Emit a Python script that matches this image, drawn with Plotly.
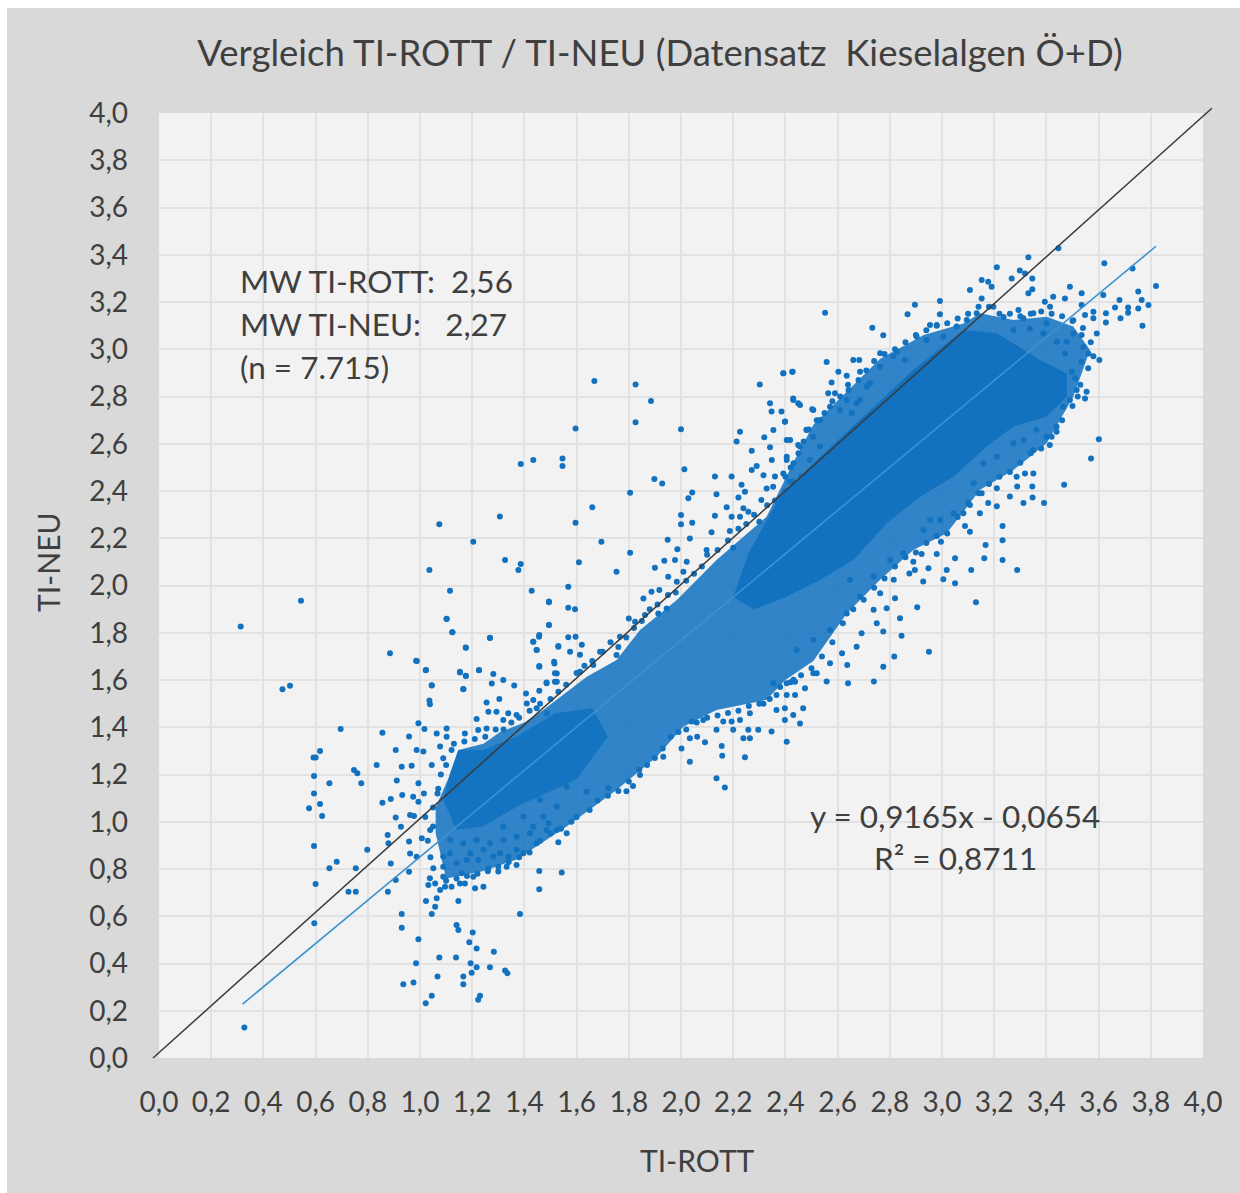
import plotly.graph_objects as go

TITLE = "Vergleich TI-ROTT / TI-NEU (Datensatz  Kieselalgen Ö+D)"
X_TITLE = "TI-ROTT"
Y_TITLE = "TI-NEU"
STATS = ["MW TI-ROTT:\u00a0 2,56", "MW TI-NEU:\u00a0\u00a0 2,27", "(n = 7.715)"]
TREND_TEXT = ["y = 0,9165x - 0,0654", "R² = 0,8711"]

diag_x = [-0.023, 4.034]
diag_y = [0.0, 4.02]
trend_x = [0.32, 3.82]
trend_y = [0.228, 3.436]

# Outline of the areas too dense to separate into single dots
cloud_outline = [(1.06,1.06),(1.115,1.20),(1.147,1.304),(1.243,1.33),(1.307,1.38),(1.40,1.42),(1.472,1.473),(1.639,1.614),(1.753,1.685),(1.843,1.812),(1.984,1.939),(2.136,2.108),(2.328,2.291),(2.43,2.52),(2.507,2.68),(2.635,2.82),(2.763,2.96),(2.930,3.06),(3.082,3.109),(3.146,3.152),(3.274,3.124),(3.401,3.138),(3.503,3.096),(3.567,2.997),(3.503,2.799),(3.401,2.602),(3.274,2.489),(3.146,2.405),(3.018,2.221),(2.890,2.150),(2.763,2.024),(2.635,1.882),(2.507,1.68),(2.40,1.60),(2.328,1.516),(2.136,1.473),(2.009,1.402),(1.907,1.275),(1.753,1.134),(1.562,0.980),(1.370,0.840),(1.240,0.790),(1.100,0.760),(1.060,0.950)]
core_high = [(2.26,2.14),(2.379,2.376),(2.507,2.517),(2.698,2.715),(2.890,2.912),(3.082,3.082),(3.210,3.068),(3.375,2.955),(3.478,2.898),(3.478,2.799),(3.401,2.715),(3.273,2.673),(3.171,2.588),(3.043,2.460),(2.916,2.376),(2.788,2.263),(2.660,2.108),(2.533,2.024),(2.40,1.95),(2.28,1.90),(2.20,1.95)]
core_low = [(1.089,1.092),(1.115,1.205),(1.147,1.304),(1.243,1.304),(1.300,1.330),(1.370,1.360),(1.520,1.460),(1.660,1.480),(1.720,1.360),(1.600,1.180),(1.370,1.064),(1.243,0.980),(1.140,0.966)]

points_low = [(.313,1.826),(.473,1.561),(.502,1.576),(.544,1.935),(.696,1.393),(.856,1.377),(.885,1.713),(.985,1.681),(1.022,1.641),(1.045,1.577),(1.036,1.513),(1.102,1.858),(1.124,1.802),(1.176,1.737),(1.268,1.778),(1.153,1.635),(1.176,1.617),(1.226,1.641),(1.166,1.561),(1.281,1.625),(1.275,1.585),(1.319,1.600),(1.361,1.577),(1.255,1.505),(1.304,1.520),(1.406,1.543),(1.457,1.554),(1.434,1.762),(1.457,1.790),(1.447,1.727),(1.530,1.741),(1.494,1.833),(1.494,1.932),(1.457,1.656),(1.515,1.670),(1.524,1.628),(1.517,1.593),(1.485,1.586),(.994,1.417),(1.017,1.393),(.958,1.361),(.907,1.304),(.834,1.240),(.617,1.300),(.592,1.272),(.600,1.272),(.594,1.194),(.653,1.163),(.594,1.120),(.617,1.075),(.575,1.057),(.625,1.024),(.747,1.219),(.760,1.205),(.775,1.163),(.594,.897),(.600,.737),(.595,.570),(.653,.803),(.681,.831),(.754,.803),(.798,.881),(.726,.704),(.754,.704),(.877,.704),(.888,.823),(.907,.753),(.958,.788),(.930,.609),(.930,.551),(.994,.503),(1.045,.609),(1.058,.640),(1.064,.676),(1.023,.665),(1.147,.665),(1.140,.563),(1.147,.542),(1.202,.531),(1.189,.490),(1.217,.464),(1.283,.450),(1.074,.425),(1.138,.425),(1.194,.401),(1.217,.384),(1.268,.384),(1.198,.361),(1.326,.370),(1.335,.359),(.985,.401),(1.067,.345),(1.166,.345),(1.166,.312),(.975,.320),(.936,.312),(1.045,.264),(1.022,.232),(1.230,.264),(1.223,.247),(.327,.129),(1.383,.609),(1.457,.714),(1.457,.792),(1.543,.785),(1.530,.913),
(.911,1.175),(.930,1.233),(.968,1.237),(1.045,1.240),(.994,1.163),(.932,1.113),(.888,1.096),(.856,1.080),(1.015,1.120),(.974,1.106),(.994,1.085),(1.067,1.120),(.907,1.018),(.962,1.029),(.977,1.024),(.927,.979),(.876,.944),(.879,.909),(.958,.916),(.962,.866),(.987,.852),(1.007,.930),(1.039,.965),(.987,1.304),(1.013,1.297),(1.064,1.374),(1.102,1.395),(1.102,1.360),(1.077,1.318),(1.089,1.269),(1.121,1.304),(1.172,1.374),(1.223,1.388),(1.255,1.395),(1.217,1.435),(1.262,1.466),(1.293,1.466),(1.338,1.459),(1.319,1.431),(1.370,1.452),(1.409,1.501),(1.447,1.480),(1.485,1.459),(1.434,1.515),
(1.032,.732),(1.058,.739),(1.077,.711),(1.096,.725),(1.121,.725),(1.153,.739),(1.172,.739),(1.211,.718),(1.243,.725),(1.204,.767),(1.262,.803),(1.300,.789),(1.332,.810),(1.370,.817),(1.089,.810),(1.089,.767),(1.089,.853),(1.140,.824),(1.179,.838),(1.223,.838),(1.281,.853),(1.339,.853),(1.396,.867),(1.447,.909),(1.485,.965),(1.492,.994),(1.160,.782),(1.051,.803),(1.038,.761),(1.115,.923),(1.166,.909),(1.217,.923),(1.268,.909),(1.319,.923),(1.370,.937),(1.421,.951),(1.472,1.021),(1.524,.965),(1.562,.951),(1.115,.867),(1.192,.867),(1.243,.881),(1.307,.867),(1.370,.881),(1.434,.979),(1.319,.979),(1.396,1.021),(1.460,1.092),(1.524,1.064),(1.562,1.148)]

points_mid = [(1.668,2.866),(1.826,2.851),(1.885,2.781),(1.826,2.691),(2.000,2.661),(2.302,2.851),(2.392,2.898),(2.428,2.905),(2.341,2.771),(2.347,2.736),(2.385,2.736),(2.398,2.693),(2.430,2.792),(2.449,2.771),(2.507,2.743),(2.226,2.651),(2.213,2.609),(2.271,2.570),(2.319,2.627),(2.354,2.658),(2.341,2.585),(2.405,2.616),(2.449,2.595),(2.481,2.658),(1.596,2.665),(1.546,2.538),(1.546,2.506),(1.434,2.531),(1.386,2.514),(2.013,2.492),(1.898,2.451),(1.928,2.432),(1.805,2.393),(2.043,2.394),(2.028,2.369),(2.130,2.461),(2.194,2.461),(2.271,2.489),(2.290,2.506),(2.316,2.467),(2.348,2.531),(2.360,2.461),(2.405,2.531),(2.232,2.426),(2.136,2.386),(2.220,2.372),(2.245,2.397),(2.175,2.331),(2.239,2.327),(2.258,2.312),(2.130,2.295),(2.194,2.291),(2.226,2.291),(2.000,2.298),(2.000,2.259),(2.043,2.266),(2.117,2.225),(2.187,2.231),(2.308,2.362),(2.353,2.418),(2.328,2.411),(2.417,2.440),(1.660,2.331),(1.596,2.266),(1.695,2.185),(1.805,2.139),(1.306,2.292),(1.074,2.259),(1.204,2.185),(1.326,2.108),(1.386,2.091),(1.377,2.066),(1.609,2.098),(1.753,2.058),(1.900,2.075),(1.949,2.194),(2.034,2.199),(1.986,2.153),(2.098,2.150),(1.936,2.105),(1.977,2.108),(2.022,2.101),(1.951,2.037),(2.009,2.058),(1.887,1.974),(1.856,1.945),(1.917,1.981),(1.984,2.016),(1.036,2.066),(1.115,1.978),(1.428,1.978),(1.568,1.995),(1.494,1.929),(1.568,1.906),(1.594,1.899),(1.494,1.833),(1.102,1.859),(1.124,1.802),(1.268,1.779),(1.175,1.738),(.988,1.680),(1.023,1.642),(1.153,1.632),(1.175,1.618),(1.226,1.642),(1.045,1.578),(1.166,1.562),(1.038,1.497),(1.456,1.783),(1.434,1.762),(1.447,1.727),(1.530,1.744),(1.568,1.781),(1.596,1.783),(1.620,1.749),(1.575,1.720),(1.613,1.707),(1.690,1.720),(1.457,1.659),(1.514,1.677),(1.517,1.629),(1.485,1.589),(1.524,1.593),(1.613,1.635),(1.664,1.664),(1.753,1.706),(1.766,1.783),(1.824,1.847),(1.862,1.875),(1.945,1.903),(1.913,1.882),
(2.475,1.565),(2.468,1.480),(2.398,1.480),(2.430,1.452),(2.456,1.416),(2.398,1.431),(2.366,1.473),(2.347,1.382),(2.296,1.389),(2.258,1.389),(2.264,1.459),(2.226,1.431),(2.194,1.424),(2.162,1.424),(2.136,1.389),(2.200,1.389),(2.239,1.353),(2.264,1.353),(2.405,1.339),(2.245,1.273),(2.156,1.321),(2.158,1.279),(2.092,1.336),(2.062,1.360),(2.034,1.353),(2.034,1.254),(2.002,1.310),(2.136,1.184),(2.168,1.145),(2.085,1.431),(2.041,1.424),(2.354,1.586),(2.405,1.586),(2.437,1.593),(2.366,1.537),(2.405,1.537),(2.437,1.537),(2.316,1.500),(2.520,1.629),(1.932,1.275),(1.843,1.198),(1.816,1.151),(1.791,1.129),(1.722,1.142),(1.638,1.127)]

points_high = [(2.552,3.155),(2.896,3.188),(2.992,3.204),(2.992,3.148),(2.868,3.148),(2.733,3.091),(2.775,3.059),(2.558,2.946),(3.107,3.251),(3.152,3.293),(3.177,3.286),(3.190,3.265),(3.152,3.215),(3.210,3.347),(3.267,3.300),(3.298,3.333),(3.318,3.321),(3.346,3.300),(3.346,3.254),(3.331,3.237),(3.331,3.389),(3.446,3.427),(3.622,3.364),(3.730,3.342),(3.490,3.265),(3.471,3.215),(3.426,3.222),(3.394,3.201),(3.535,3.237),(3.535,3.187),(3.618,3.230),(3.680,3.208),(3.663,3.177),(3.713,3.177),(3.752,3.244),(3.765,3.208),(3.791,3.187),(3.820,3.268),(3.752,3.173),(3.713,3.155),(3.684,3.131),(3.628,3.152),(3.628,3.113),(3.768,3.099),(3.580,3.159),(3.580,3.131),(3.548,3.145),(3.593,3.067),(3.603,2.955),(3.561,2.982),(3.535,2.947),(3.542,3.010),(3.503,3.067),(3.535,3.060),(3.503,3.123),(3.440,3.032),(3.478,3.032),(3.471,2.982),(3.414,3.180),(3.401,3.110),(3.350,3.152),(3.293,3.166),(3.312,3.131),(3.337,3.088),(3.388,3.067),(3.274,3.081),(3.236,3.137),(3.197,3.180),
(3.497,2.905),(3.510,2.877),(3.554,2.820),(3.548,2.792),(3.516,2.827),(3.490,2.785),(3.464,2.757),(3.439,2.672),(3.439,2.651),(3.413,2.595),(3.401,2.630),(3.362,2.659),(3.349,2.572),(3.312,2.616),(3.601,2.619),(3.571,2.538),(3.468,2.426),(3.350,2.474),(3.318,2.474),(3.346,2.419),(3.288,2.419),(3.286,2.460),(3.260,2.377),(3.312,2.349),(3.347,2.372),(3.391,2.349),(3.210,2.412),(3.152,2.391),(3.177,2.349),(3.210,2.335),(3.145,2.306),(3.107,2.341),(3.082,2.306),(3.232,2.252),(3.232,2.192),(3.167,2.171),(3.162,2.115),(3.232,2.108),(3.288,2.066),(3.112,2.066),(3.050,2.115),(2.980,2.133),(2.922,2.133),(3.088,2.252),(3.107,2.228),(2.996,2.185),(3.018,2.066),(2.948,2.073),(2.890,2.101),(2.928,2.017),(3.005,2.026),(3.050,2.009),(2.896,2.066),(2.875,2.051),(3.130,1.929),(2.905,1.908),(2.839,1.861),(2.845,1.787),(2.950,1.720),(2.817,1.699),(2.775,1.656),(2.739,1.594),(2.640,1.586),(2.637,1.664),(2.558,1.594),(2.571,1.671),(2.820,1.946),(2.788,1.904),(2.750,1.840),(2.775,1.805),(2.692,1.798),(2.673,1.741),(2.617,1.713),(2.738,1.897),(2.763,1.967),(2.815,2.024),(2.738,2.038),(2.686,1.953),(2.635,1.882),(2.571,1.812),(2.507,1.770),(2.443,1.727),(2.507,1.629),(2.431,1.601),(2.648,2.024),(2.801,2.108),(2.852,2.137),(2.929,2.235),(2.993,2.277),(3.044,2.306),(3.121,2.433),(3.159,2.517),(3.210,2.545),(3.274,2.602),(2.954,2.277),
(2.392,2.898),(2.426,2.905),(2.660,2.954),(2.683,2.954),(2.603,2.905),(2.635,2.888),(2.686,2.905),(2.577,2.859),(2.564,2.814),(2.590,2.814),(2.642,2.828),(2.635,2.785),(2.430,2.785),(2.456,2.764),(2.503,2.746),(2.399,2.694),(2.481,2.659),(2.533,2.701),(2.571,2.757),(2.609,2.743),(2.654,2.729),(2.686,2.785),(2.725,2.856),(2.763,2.983),(2.813,2.969),(2.858,2.955),(2.903,3.053),(2.954,3.103),(2.980,3.103),(3.056,3.096),(3.095,3.124),(3.133,3.152),(2.941,3.039),(3.005,3.053),(2.827,2.990),(2.763,2.926),(2.712,2.842),(2.673,2.771),(2.506,2.630),(2.533,2.588),(2.418,2.616),(2.405,2.545),(2.456,2.588),(2.431,2.517),(2.392,2.474),(2.494,2.531)]

# Dots estimated along the rim of the dense areas
points_rim = [(1.32,1.39),(1.35,1.42),(1.38,1.44),(1.42,1.47),(1.46,1.50),(1.50,1.52),(1.53,1.55),(1.56,1.58),(1.60,1.63),(1.63,1.66),(1.66,1.68),(1.70,1.72),(1.73,1.76),(1.76,1.74),(1.79,1.78),(1.82,1.82),(1.80,1.86),(1.85,1.85),(1.88,1.90),(1.91,1.92),(1.95,1.96),(1.98,1.97),(2.02,2.02),(2.05,2.05),(2.08,2.08),(2.10,2.13),(2.14,2.15),(2.18,2.19),(2.20,2.16),(2.22,2.24),(2.25,2.26),(2.28,2.30),(2.30,2.27),(2.33,2.34),(2.36,2.36),(2.38,2.33),(2.40,2.40),(2.43,2.44),(2.46,2.46),
(1.60,1.02),(1.65,1.05),(1.68,1.09),(1.72,1.11),(1.76,1.13),(1.80,1.17),(1.84,1.22),(1.87,1.24),(1.90,1.27),(1.93,1.31),(1.96,1.36),(1.99,1.38),(2.02,1.39),(2.06,1.42),(2.10,1.44),(2.14,1.45),(2.18,1.46),(2.22,1.47),(2.26,1.49),(2.30,1.50),(2.34,1.52),(2.38,1.57),(2.42,1.59),(2.46,1.62),(2.50,1.65),(2.54,1.70),(2.58,1.76),(2.62,1.84),(2.66,1.90),(2.70,1.94),(2.74,1.99),(2.78,2.03),(2.82,2.08),(2.86,2.12),(2.90,2.14),(2.94,2.18),(2.98,2.21),(3.02,2.22),(3.06,2.29),(3.10,2.35),(3.14,2.39),(3.18,2.43),(3.22,2.46),(3.26,2.48),(3.30,2.52),(3.34,2.56),(3.38,2.58),(3.42,2.63),(3.46,2.70),(3.50,2.76),
(1.10,.75),(1.14,.76),(1.18,.77),(1.22,.78),(1.26,.79),(1.30,.81),(1.34,.83),(1.38,.85),(1.42,.87),(1.46,.92),(1.50,.95),(1.54,.97),(1.58,1.00),(1.04,.85),(1.03,.92),(1.05,.98),(1.02,1.02),(1.05,1.06),(1.07,1.14),(1.10,1.24),(1.08,1.20),(1.13,1.33),(1.17,1.34),(1.21,1.35),(1.25,1.36),(1.29,1.39),
(2.42,2.50),(2.40,2.46),(2.45,2.56),(2.47,2.61),(2.49,2.66),(2.52,2.70),(2.55,2.73),(2.58,2.78),(2.61,2.80),(2.64,2.85),(2.68,2.87),(2.71,2.91),(2.74,2.95),(2.78,2.98),(2.82,3.00),(2.86,3.03),(2.90,3.06),(2.94,3.08),(2.98,3.10),(3.02,3.11),(3.06,3.13),(3.10,3.15),(3.14,3.18),(3.18,3.18),(3.22,3.15),(3.26,3.15),(3.30,3.14),(3.34,3.15),(3.38,3.16),(3.42,3.15),(3.46,3.14),(3.50,3.12),(3.54,3.09),(3.57,3.03),(3.58,2.97),(3.56,2.92),(3.53,2.85),(3.52,2.80)]

x_ticks = [i / 5 for i in range(21)]
y_ticks = [i / 5 for i in range(21)]

BLUE = "#1272C0"
fig = go.Figure()


def area(outline, alpha):
    xs, ys = zip(*outline)
    fig.add_trace(go.Scatter(x=xs + xs[:1], y=ys + ys[:1], mode="lines", fill="toself",
                             line=dict(width=0), fillcolor=f"rgba(18,114,192,{alpha})",
                             hoverinfo="skip", showlegend=False))


area(cloud_outline, 0.86)
area(core_low, 0.9)
area(core_high, 1)

all_points = points_low + points_mid + points_high + points_rim
fig.add_trace(go.Scatter(x=[p[0] for p in all_points], y=[p[1] for p in all_points], mode="markers",
                         marker=dict(color=BLUE, size=6, line=dict(width=0)), showlegend=False))
fig.add_trace(go.Scatter(x=trend_x, y=trend_y, mode="lines", line=dict(color="#3C93D0", width=1.6),
                         showlegend=False))

TEXT = "#3F3F3F"
FONT = "Lato, 'Open Sans', sans-serif"
L, R, T, B = 159, 1203, 113, 1058
W, H = 1240, 1193
RANGE = [0, 4]

annotations = []
for text, yv in zip(STATS, [3.289, 3.107, 2.925]):
    annotations.append(dict(x=0.303, y=yv, text=text, showarrow=False, xanchor="left", yanchor="middle",
                            font=dict(size=31.5, color=TEXT, family=FONT)))
for text, yv in zip(TREND_TEXT, [1.024, 0.847]):
    annotations.append(dict(x=3.05, y=yv, text=text, showarrow=False, xanchor="center", yanchor="middle",
                            font=dict(size=31.5, color=TEXT, family=FONT)))
annotations.append(dict(xref="paper", yref="paper", x=(697 - L) / (R - L), y=(B - 1160) / (B - T), text=X_TITLE,
                        showarrow=False, xanchor="center", yanchor="middle",
                        font=dict(size=30, color=TEXT, family=FONT)))
annotations.append(dict(xref="paper", yref="paper", x=(48 - L) / (R - L), y=(B - 562) / (B - T), text=Y_TITLE,
                        textangle=-90, showarrow=False, xanchor="center", yanchor="middle",
                        font=dict(size=30, color=TEXT, family=FONT)))

grid = "#E2E2E2"
axis = dict(range=RANGE, tickmode="array", tickformat=".1f", showgrid=True, gridcolor=grid, gridwidth=2,
            zeroline=False, showline=False, ticks="", tickfont=dict(size=28, color=TEXT, family=FONT))
shapes = [
    dict(type="rect", xref="paper", yref="paper", layer="below", x0=(0 - L) / (R - L), x1=(7 - L) / (R - L),
         y0=(B - H) / (B - T), y1=B / (B - T), fillcolor="#FFFFFF", line=dict(width=0)),
    dict(type="rect", xref="paper", yref="paper", layer="below", x0=(0 - L) / (R - L), x1=(W - L) / (R - L),
         y0=(B - 8) / (B - T), y1=B / (B - T), fillcolor="#FFFFFF", line=dict(width=0)),
    # the reference line runs slightly past the plot area, so it is placed on the paper scale
    dict(type="line", xref="paper", yref="paper", layer="above",
         x0=diag_x[0] / RANGE[1], x1=diag_x[1] / RANGE[1], y0=diag_y[0] / RANGE[1], y1=diag_y[1] / RANGE[1],
         line=dict(color="#3A3A3A", width=1.5)),
]
fig.update_layout(
    width=W, height=H, autosize=False,
    margin=dict(l=L, r=W - R, t=T, b=H - B, pad=0),
    paper_bgcolor="#D9D9D9", plot_bgcolor="#F2F2F2", separators=",.", showlegend=False,
    font=dict(family=FONT, color=TEXT),
    title=dict(text=TITLE, x=(660 - L) / (R - L), xref="paper", xanchor="center", y=1 - 53 / H, yref="container",
               yanchor="middle", font=dict(size=36.5, color=TEXT, family=FONT)),
    xaxis=dict(axis, tickvals=x_ticks, ticklabelstandoff=25),
    yaxis=dict(axis, tickvals=y_ticks, ticklabelstandoff=30),
    annotations=annotations,
    shapes=shapes,
)
fig.write_html("out.html", config={"displayModeBar": False},
               post_script="document.body.style.margin='0';document.body.style.overflow='hidden';")
